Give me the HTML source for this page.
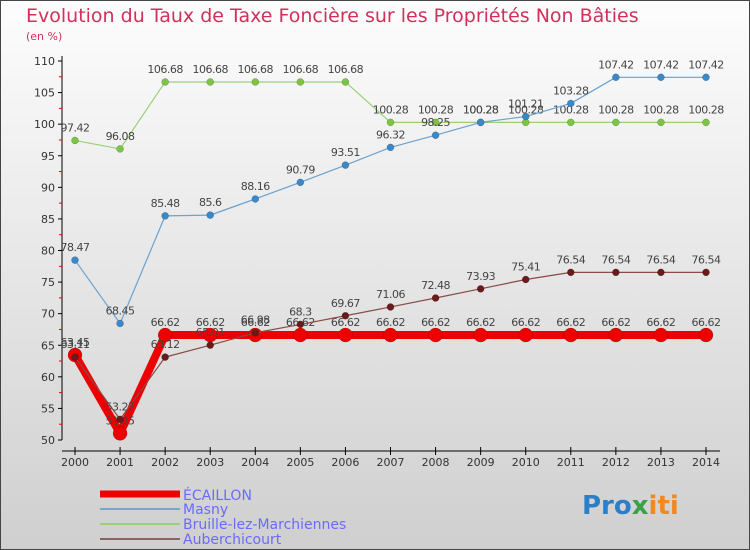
<!DOCTYPE html>
<html><head><meta charset="utf-8"><style>
body{margin:0;}
svg{display:block;font-family:"DejaVu Sans","Liberation Sans",sans-serif;}
</style></head><body>
<svg id="c" width="750" height="550" viewBox="0 0 750 550">
<defs><linearGradient id="bg" x1="0" y1="0" x2="0" y2="1"><stop offset="0" stop-color="#fdfdfd"/><stop offset="1" stop-color="#cfcfcf"/></linearGradient></defs>
<rect x="0.5" y="0.5" width="749" height="549" fill="url(#bg)" stroke="#444"/>
<text x="26" y="22" font-size="19" fill="#d0305a">Evolution du Taux de Taxe Foncière sur les Propriétés Non Bâties</text>
<text x="26" y="40" font-size="11" fill="#d0305a">(en %)</text>
<g id="axes"></g><g id="series"></g>
<g>
<line x1="100" y1="494" x2="180" y2="494" stroke="#e00" stroke-width="7"/><text x="183" y="500" font-size="14" fill="#6a6aff">ÉCAILLON</text>
<line x1="100" y1="509" x2="180" y2="509" stroke="#7aa6cc" stroke-width="2"/><text x="183" y="514" font-size="14" fill="#6a6aff">Masny</text>
<line x1="100" y1="524" x2="180" y2="524" stroke="#99d077" stroke-width="2"/><text x="183" y="529" font-size="14" fill="#6a6aff">Bruille-lez-Marchiennes</text>
<line x1="100" y1="539" x2="180" y2="539" stroke="#8a6464" stroke-width="2"/><text x="183" y="544" font-size="14" fill="#6a6aff">Auberchicourt</text>
</g>
<text x="582" y="514" font-size="26" font-weight="bold"><tspan fill="#2a7fc8">Pro</tspan><tspan fill="#3aa04a">x</tspan><tspan fill="#f08a20">iti</tspan></text>
</svg>
<script>
const years=[2000,2001,2002,2003,2004,2005,2006,2007,2008,2009,2010,2011,2012,2013,2014];
const ecaillon=[63.45,51.05,66.62,66.62,66.62,66.62,66.62,66.62,66.62,66.62,66.62,66.62,66.62,66.62,66.62];
const masny=[78.47,68.45,85.48,85.6,88.16,90.79,93.51,96.32,98.25,100.28,101.21,103.28,107.42,107.42,107.42];
const bruille=[97.42,96.08,106.68,106.68,106.68,106.68,106.68,100.28,100.28,100.28,100.28,100.28,100.28,100.28,100.28];
const auber=[63.11,53.27,63.12,65.01,66.98,68.3,69.67,71.06,72.48,73.93,75.41,76.54,76.54,76.54,76.54];
const yTicks=[50,55,60,65,70,75,80,85,90,95,100,105,110];
const NS="http://www.w3.org/2000/svg";
const x=i=>75+i*(706-75)/(years.length-1);
const y=v=>440-(v-50)*(440-61)/60;
function mk(t,a,p){const e=document.createElementNS(NS,t);for(const k in a)e.setAttribute(k,a[k]);p.appendChild(e);return e;}
const ax=document.getElementById('axes');
let l=mk('line',{x1:62,y1:56,x2:62,y2:440,stroke:'#000'},ax);


l=mk('line',{x1:62,y1:451,x2:720,y2:451,stroke:'#000'},ax);


yTicks.forEach(v=>{mk('line',{x1:58,y1:y(v),x2:62,y2:y(v),stroke:'#000'},ax);
if(v<110)mk('line',{x1:59,y1:y(v+2.5),x2:62,y2:y(v+2.5),stroke:'#e00'},ax);
const t=mk('text',{x:55,y:y(v)+4,'font-size':11,'text-anchor':'end',fill:'#333'},ax);t.textContent=v;

});
years.forEach((yr,i)=>{mk('line',{x1:x(i),y1:447,x2:x(i),y2:455,stroke:'#000'},ax);
const t=mk('text',{x:x(i),y:466,'font-size':11,'text-anchor':'middle',fill:'#333'},ax);t.textContent=yr;

});
const sg=document.getElementById('series');
function draw(vals,color,dot,w,r,name){
const g=mk('g',{},sg);


mk('polyline',{points:vals.map((v,i)=>x(i)+','+y(v)).join(' '),fill:'none',stroke:color,'stroke-width':w,'stroke-linejoin':'round'},g);
vals.forEach((v,i)=>{const c=mk('circle',{cx:x(i),cy:y(v),r:r,fill:dot,stroke:'rgba(0,0,0,0.3)','stroke-width':0.5},g);


const t=mk('text',{x:x(i),y:y(v)-9,'font-size':11,'text-anchor':'middle',fill:'#444','letter-spacing':'-0.5'},g);t.textContent=v;

});}
draw(bruille,'#99d077','#7cc544',1.2,3.5,'series-bruille');
draw(masny,'#6aa2d0','#3a88c8',1.2,3.5,'series-masny');
draw(ecaillon,'#ee0000','#ee0000',8,7,'series-ecaillon');
draw(auber,'#8a4a4a','#6a1a1a',1.2,3.5,'series-auberchicourt');
</script>
</body></html>
